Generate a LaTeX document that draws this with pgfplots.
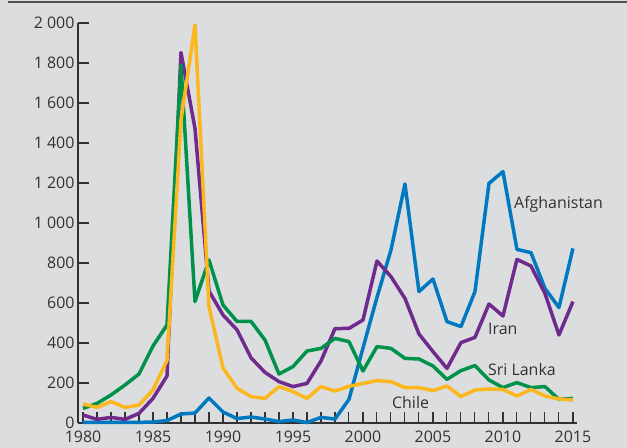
\documentclass[border=0pt]{standalone}
\usepackage{fontspec}
\setmainfont{Open Sans}
\usepackage{pgfplots}
\pgfplotsset{compat=1.18}
\definecolor{bggray}{RGB}{220,221,223}
\definecolor{txtgray}{RGB}{50,50,53}
\definecolor{afgblue}{RGB}{0,121,193}
\definecolor{iranpurple}{RGB}{110,42,140}
\definecolor{slgreen}{RGB}{0,145,75}
\definecolor{chileorange}{RGB}{253,183,30}

% series: Afghanistan, Iran, Sri Lanka, Chile (1980--2015)
\begin{document}
\begin{tikzpicture}[x=1bp,y=1bp]
\useasboundingbox (0,0) rectangle (627,448);
\fill[bggray] (0,0) rectangle (627,448);
\draw[line width=1.8bp, color=txtgray!85] (8,446) -- (627,446);
\begin{axis}[
    at={(78bp,25bp)}, anchor=south west,
    scale only axis,
    width=499bp, height=400bp,
    xmin=1979.643, xmax=2015.29,
    ymin=0, ymax=2000,
    axis x line=bottom, axis y line=left,
    axis line style={-, line width=1.2bp, color=txtgray},
    tick style={line width=1.1bp, color=txtgray},
    tick align=inside,
    major tick length=11bp, minor tick length=11bp,
    xtick={1980,1985,...,2015},
    xticklabels={1980,1985,1990,1995,2000,2005,2010,2015},
    minor xtick={1980,...,2015},
    ytick={0,200,...,2000},
    yticklabels={0,200,400,600,800,1 000,1 200,1 400,1 600,1 800,2 000},
    ticklabel style={font=\fontsize{16}{18}\selectfont, text=txtgray},
    xticklabel style={yshift=-4bp},
    clip=false,
    every axis plot/.append style={line width=3.5bp, line join=round},
]
\addplot[afgblue] coordinates {
(1980,3) (1981,3) (1982,3) (1983,3) (1984,3) (1985,5) (1986,12) (1987,45)
(1988,50) (1989,125) (1990,55) (1991,22) (1992,30) (1993,20) (1994,7)
(1995,15) (1996,2) (1997,28) (1998,20) (1999,118) (2000,375) (2001,628)
(2002,865) (2003,1195) (2004,657) (2005,720) (2006,507) (2007,482)
(2008,657) (2009,1198) (2010,1257) (2011,868) (2012,852) (2013,673)
(2014,577) (2015,873)
};
\addplot[iranpurple] coordinates {
(1980,40) (1981,18) (1982,28) (1983,18) (1984,48) (1985,123) (1986,235)
(1987,1852) (1988,1473) (1989,660) (1990,540) (1991,466) (1992,326)
(1993,253) (1994,207) (1995,182) (1996,198) (1997,310) (1998,472)
(1999,473) (2000,515) (2001,810) (2002,732) (2003,623) (2004,445)
(2005,357) (2006,273) (2007,402) (2008,428) (2009,595) (2010,535)
(2011,818) (2012,785) (2013,648) (2014,440) (2015,607)
};
\addplot[slgreen] coordinates {
(1980,73) (1981,98) (1982,140) (1983,190) (1984,245) (1985,385) (1986,490)
(1987,1790) (1988,607) (1989,815) (1990,590) (1991,508) (1992,508)
(1993,415) (1994,245) (1995,282) (1996,360) (1997,373) (1998,423)
(1999,407) (2000,260) (2001,382) (2002,373) (2003,323) (2004,320)
(2005,285) (2006,218) (2007,262) (2008,287) (2009,215) (2010,177)
(2011,202) (2012,177) (2013,182) (2014,118) (2015,123)
};
\addplot[chileorange] coordinates {
(1980,95) (1981,78) (1982,107) (1983,78) (1984,90) (1985,165) (1986,313)
(1987,1515) (1988,1990) (1989,582) (1990,275) (1991,174) (1992,132)
(1993,123) (1994,182) (1995,157) (1996,123) (1997,182) (1998,160)
(1999,183) (2000,198) (2001,212) (2002,207) (2003,177) (2004,177)
(2005,162) (2006,185) (2007,132) (2008,165) (2009,170) (2010,168)
(2011,135) (2012,168) (2013,135) (2014,120) (2015,115)
};
\begin{scope}[every node/.style={anchor=base west, inner sep=0pt, text=txtgray, font=\fontsize{16}{18}\selectfont}]
\node at (axis cs:2010.79,1073) {Afghanistan};
\node at (axis cs:2008.93,440) {Iran};
\node at (axis cs:2008.93,235) {Sri Lanka};
\node at (axis cs:2002.07,73) {Chile};
\end{scope}
\end{axis}
\end{tikzpicture}
\end{document}
